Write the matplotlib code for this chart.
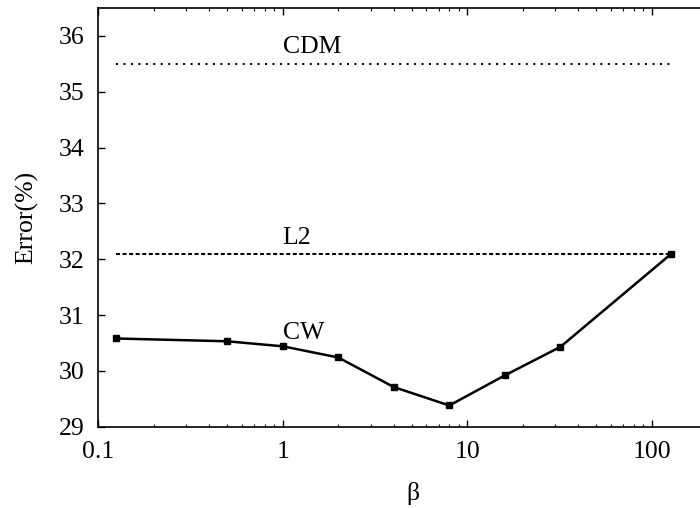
import numpy as np
import matplotlib.pyplot as plt
from matplotlib.ticker import LogLocator, FixedLocator, NullFormatter

# values
beta = [0.125, 0.5, 1, 2, 4, 8, 16, 32, 128]
cw_error = [30.58, 30.53, 30.44, 30.24, 29.71, 29.38, 29.92, 30.43, 32.10]
l2_error = 32.1
cdm_error = 35.5
y_ticks = [29, 30, 31, 32, 33, 34, 35, 36]
x_ticks = [0.1, 1, 10, 100]
x_tick_labels = ["0.1", "1", "10", "100"]

plt.rcParams["font.family"] = ["Liberation Serif", "DejaVu Serif"]
FS = 18.5

fig = plt.figure(figsize=(7.0, 5.08), dpi=100)
# right border of the original plot is cropped off the picture
ax = fig.add_axes([98.3 / 700, 1 - 426.7 / 508, 628.7 / 700, 418.7 / 508])

ax.plot(beta, cw_error, color="black", lw=1.8, marker="s", ms=5,
        mec="black", mfc="black", solid_joinstyle="miter")
ax.plot([beta[0], beta[-1]], [l2_error, l2_error], color="black", lw=1.45,
        ls=(0, (2.0, 1.25)))
ax.plot([beta[0], beta[-1]], [cdm_error, cdm_error], color="black", lw=1.45,
        ls=(0, (1.0, 2.7)))

ax.text(1, cdm_error + 0.1, "CDM", fontsize=FS, ha="left", va="bottom")
ax.text(1, l2_error + 0.08, "L2", fontsize=FS, ha="left", va="bottom")
ax.text(1, 30.48, "CW", fontsize=FS, ha="left", va="bottom")

ax.set_xscale("log")
ax.set_xlim(0.1, 256)
ax.set_ylim(29, 36.5)

ax.xaxis.set_major_locator(FixedLocator(x_ticks))
ax.set_xticklabels(x_tick_labels)
ax.xaxis.set_minor_locator(LogLocator(base=10, subs=np.arange(2, 10)))
ax.xaxis.set_minor_formatter(NullFormatter())
ax.set_yticks(y_ticks)

ax.tick_params(axis="both", which="major", direction="in", length=5,
               width=1.0, labelsize=FS, top=True)
ax.tick_params(axis="both", which="minor", direction="in", length=2.5,
               width=0.8, top=True)
ax.tick_params(axis="y", pad=10)
ax.tick_params(axis="x", pad=10)

for side in ["left", "bottom", "top"]:
    ax.spines[side].set_linewidth(1.2)
ax.spines["right"].set_visible(False)

ax.set_xlabel("β", fontsize=FS, labelpad=14)
ax.set_ylabel("Error(%)", fontsize=FS, labelpad=15)

fig.savefig("out.png", dpi=100)
